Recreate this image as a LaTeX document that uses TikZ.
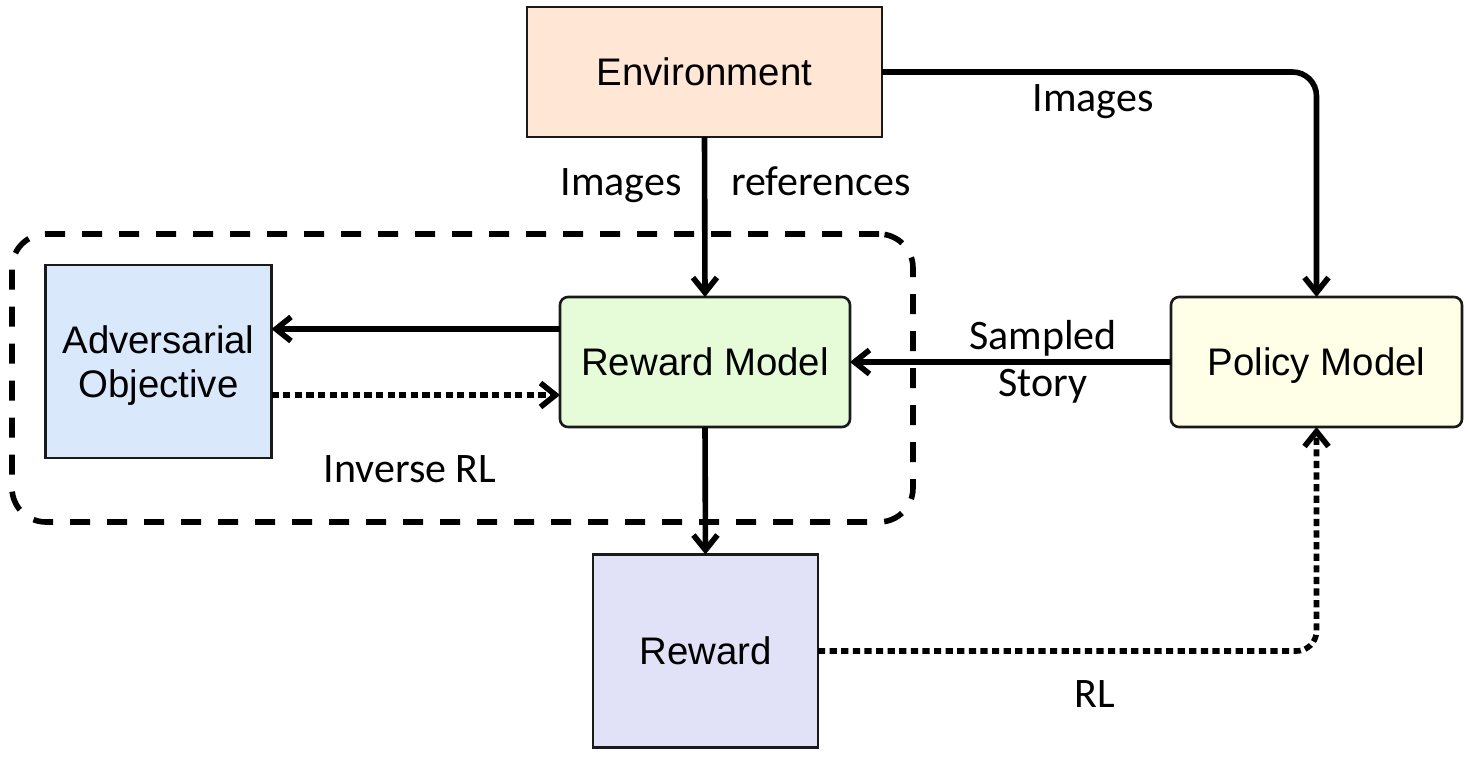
\documentclass[tikz,border=0pt]{standalone}
\usepackage{fontspec}
\newfontfamily\boxfont{Liberation Sans}
\newfontfamily\lblfont{Carlito}
\usetikzlibrary{arrows.meta}
\definecolor{envfill}{HTML}{FFE6D5}
\definecolor{advfill}{HTML}{DAE8FC}
\definecolor{rmfill}{HTML}{E6FCD8}
\definecolor{polfill}{HTML}{FFFFE8}
\definecolor{rewfill}{HTML}{E1E1F7}
\definecolor{boxline}{HTML}{1A1A1A}
\begin{document}
\begin{tikzpicture}[x=0.5pt,y=-0.5pt,
  box/.style={draw=boxline, line width=1.3pt, font=\boxfont\fontsize{19.2pt}{22pt}\selectfont, align=center, inner sep=0pt, outer sep=0pt, text depth=0pt},
  rbox/.style={box, rounded corners=4pt},
  lbl/.style={font=\lblfont\fontsize{21pt}{23.5pt}\selectfont, align=center, inner sep=0pt},
  arr/.style={line width=2.8pt, -{Straight Barb[length=7.5pt,width=12pt]}},
  dotarr/.style={arr, dash pattern=on 3.6pt off 2.2pt},
  dashbox/.style={draw, line width=2.8pt, dash pattern=on 10pt off 8.5pt, rounded corners=17pt, inner sep=0pt, outer sep=0pt},
]
\useasboundingbox (0,0) rectangle (1469,757);
% dashed group
\node[dashbox, minimum width=450.5pt, minimum height=144pt] (irl) at (462.5,378) {};
% boxes
\node[box, fill=envfill, minimum width=177.5pt, minimum height=65pt] (env) at (704.5,72) {Environment};
\node[box, fill=advfill, minimum width=113pt, minimum height=96.5pt] (adv) at (158.5,361.5) {Adversarial\\Objective};
\node[rbox, fill=rmfill, minimum width=145pt, minimum height=65pt] (rm) at (705,362) {Reward Model};
\node[rbox, fill=polfill, minimum width=145.5pt, minimum height=65pt] (pol) at (1316.5,362) {Policy Model};
\node[box, fill=rewfill, minimum width=112.5pt, minimum height=96.5pt] (rew) at (705.5,651) {Reward};
% labels
\node[lbl, anchor=base] (limg1) at (621,195) {Images};
\node[lbl, anchor=base] (lref) at (821,195) {references};
\node[lbl, anchor=base] (limg2) at (1093,111) {Images};
\node[lbl] (lsamp) at (1043,362) {Sampled\\Story};
\node[lbl, anchor=base] (linv) at (410,482) {Inverse RL};
\node[lbl, anchor=base] (lrl) at (1095,707) {RL};
% connectors
\draw[arr] (env.south) -- (rm.north);
\draw[arr] (rm.west |- 0,329) -- (adv.east |- 0,329);
\draw[dotarr] (adv.east |- 0,395) -- (rm.west |- 0,395);
\draw[arr] (pol.west) -- (rm.east);
\draw[arr] (rm.south) -- (rew.north);
\draw[arr, rounded corners=12pt] (env.east) -| (pol.north);
\draw[dotarr, rounded corners=10pt] (rew.east) -| (pol.south);
\end{tikzpicture}
\end{document}
